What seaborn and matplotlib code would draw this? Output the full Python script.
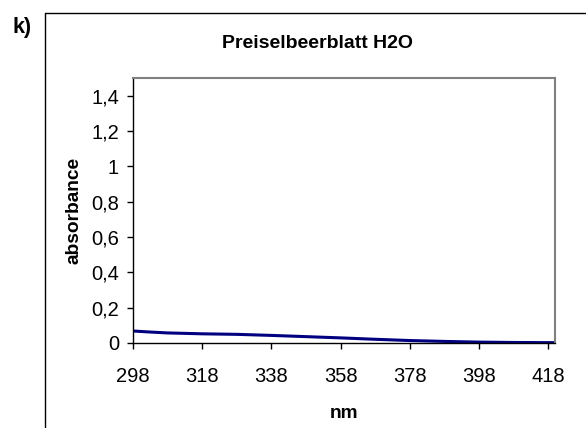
import matplotlib
matplotlib.use("Agg")
import matplotlib.pyplot as plt
import seaborn as sns
import pandas as pd
from matplotlib.lines import Line2D

wavelength = [298, 303, 308, 318, 328, 338, 348, 358, 368, 378, 388, 398, 408, 418, 420]
absorbance = [0.068, 0.062, 0.057, 0.052, 0.049, 0.043, 0.036, 0.029, 0.021, 0.014, 0.009, 0.005, 0.003, 0.002, 0.002]
x_ticks = [298, 318, 338, 358, 378, 398, 418]
y_ticks = [0, 0.2, 0.4, 0.6, 0.8, 1.0, 1.2, 1.4]
y_tick_labels = ["0", "0,2", "0,4", "0,6", "0,8", "1", "1,2", "1,4"]
title = "Preiselbeerblatt H2O"

sns.set_style("white")
plt.rcParams['font.family'] = ['Liberation Sans', 'DejaVu Sans']
plt.rcParams['text.color'] = 'black'
plt.rcParams['axes.labelcolor'] = 'black'
plt.rcParams['xtick.color'] = 'black'
plt.rcParams['ytick.color'] = 'black'

W, H = 586, 428
fig = plt.figure(figsize=(W / 100, H / 100), dpi=100)
ax = fig.add_axes([133 / W, 1 - 343 / H, (555 - 133) / W, (343 - 78) / H])

df = pd.DataFrame({"nm": wavelength, "absorbance": absorbance})
sns.lineplot(data=df, x="nm", y="absorbance", ax=ax, color="#000080", linewidth=2.2)

ax.set_xlim(298, 420)
ax.set_ylim(0, 1.5)
ax.set_xticks(x_ticks)
ax.set_xticklabels([str(v) for v in x_ticks], fontsize=14.5, color="black")
ax.set_yticks(y_ticks)
ax.set_yticklabels(y_tick_labels, fontsize=14.5, color="black")
ax.tick_params(axis="both", direction="out", length=4, width=1, color="black", labelcolor="black", bottom=True, left=True)
ax.tick_params(axis="x", pad=13)
ax.tick_params(axis="y", pad=6)

for s in ["top", "right"]:
    ax.spines[s].set_color("#808080")
    ax.spines[s].set_linewidth(1.5)
for s in ["left", "bottom"]:
    ax.spines[s].set_color("black")
    ax.spines[s].set_linewidth(1.0)

ax.set_xlabel("nm", fontsize=13.8, fontweight="bold", labelpad=14, color="black")
ax.set_ylabel("absorbance", fontsize=13.8, fontweight="bold", labelpad=6, color="black")

fig.text(317 / W, 1 - 43 / H, title, ha="center", va="center", fontsize=14, fontweight="bold", color="black")
fig.text(22 / W, 1 - 27 / H, "k)", ha="center", va="center", fontsize=15.5, fontweight="bold", color="black")

# outer chart frame
fig.add_artist(Line2D([45 / W, 45 / W], [1 - 13 / H, -0.01], transform=fig.transFigure, color="black", linewidth=1.0))
fig.add_artist(Line2D([45 / W, 1.01], [1 - 13 / H, 1 - 13 / H], transform=fig.transFigure, color="black", linewidth=1.0))

fig.savefig("out.png", dpi=100)
